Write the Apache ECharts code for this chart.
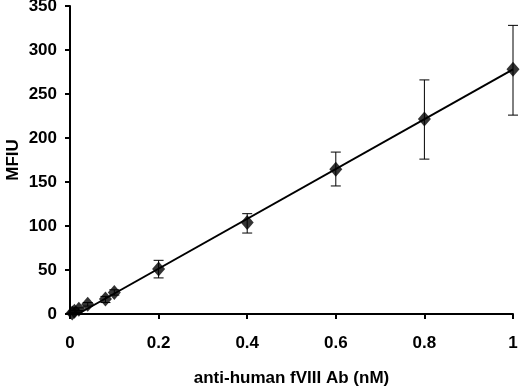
<!DOCTYPE html>
<html>
<head>
<meta charset="utf-8">
<script src="https://cdn.jsdelivr.net/npm/echarts@6/dist/echarts.min.js"></script>
<style>
  html, body { margin: 0; padding: 0; background: #fff; }
  #chart { width: 520px; height: 386px; }
</style>
</head>
<body>
<div id="chart"></div>
<script>
// concentrations (nM) and mean fluorescence
const conc = [0.005, 0.01, 0.02, 0.04, 0.08, 0.1, 0.2, 0.4, 0.6, 0.8, 1]
const mfiu = [1, 3, 5.5, 11, 17, 24.5, 51, 104, 164.5, 221.5, 278]
const errLow = [0.5, 1, 1.5, 2, 4, 3, 10, 12, 19, 45.5, 52]
const errHigh = [0.5, 1, 1.5, 2, 3, 3, 10, 10, 19.5, 44.5, 50]
// linear trendline endpoints
const trendX = [0.018, 1]
const trendY = [0, 278]

const yTicks = [0, 50, 100, 150, 200, 250, 300, 350]
const xTicks = [0, 0.2, 0.4, 0.6, 0.8, 1]

const font = 'Liberation Sans, Arial, sans-serif'

const chart = echarts.init(document.getElementById('chart'))

const pointData = conc.map((x, i) => [x, mfiu[i]])
const errData = conc.map((x, i) => [x, mfiu[i] - errLow[i], mfiu[i] + errHigh[i]])

const option = {
  animation: false,
  grid: { left: 70, right: 7, top: 6, bottom: 72, containLabel: false, outerBoundsMode: 'none' },
  xAxis: {
    type: 'value',
    min: xTicks[0],
    max: xTicks[xTicks.length - 1],
    interval: 0.2,
    name: 'anti-human fVIII Ab (nM)',
    nameLocation: 'middle',
    nameGap: 56,
    nameMoveOverlap: false,
    nameTextStyle: { fontFamily: font, fontWeight: 'bold', fontSize: 17, color: '#000' },
    axisLine: { lineStyle: { color: '#000', width: 2 } },
    axisTick: { inside: false, length: 5, lineStyle: { color: '#000', width: 2 } },
    axisLabel: { fontFamily: font, fontWeight: 'bold', fontSize: 17, color: '#000', margin: 21 },
    splitLine: { show: false }
  },
  yAxis: {
    type: 'value',
    min: yTicks[0],
    max: yTicks[yTicks.length - 1],
    interval: 50,
    name: 'MFIU',
    nameLocation: 'middle',
    nameGap: 48,
    nameRotate: 90,
    nameMoveOverlap: false,
    nameTextStyle: { fontFamily: font, fontWeight: 'bold', fontSize: 17, color: '#000' },
    axisLine: { show: true, lineStyle: { color: '#000', width: 2 } },
    axisTick: { show: true, inside: false, length: 5, lineStyle: { color: '#000', width: 2 } },
    axisLabel: { fontFamily: font, fontWeight: 'bold', fontSize: 17, color: '#000', margin: 13 },
    splitLine: { show: false }
  },
  series: [
    {
      type: 'line',
      data: trendX.map((x, i) => [x, trendY[i]]),
      symbol: 'none',
      lineStyle: { color: '#000', width: 2 },
      z: 2
    },
    {
      type: 'custom',
      data: errData,
      renderItem: (params, api) => {
        const x = api.value(0)
        const lo = api.coord([x, api.value(1)])
        const hi = api.coord([x, api.value(2)])
        const cap = 5
        const style = { stroke: '#000', lineWidth: 1 }
        return {
          type: 'group',
          children: [
            { type: 'line', shape: { x1: lo[0], y1: lo[1], x2: hi[0], y2: hi[1] }, style },
            { type: 'line', shape: { x1: lo[0] - cap, y1: lo[1], x2: lo[0] + cap, y2: lo[1] }, style },
            { type: 'line', shape: { x1: hi[0] - cap, y1: hi[1], x2: hi[0] + cap, y2: hi[1] }, style }
          ]
        }
      },
      z: 3
    },
    {
      type: 'scatter',
      data: pointData,
      symbol: 'diamond',
      symbolSize: [13, 15],
      itemStyle: { color: '#000' },
      z: 4
    }
  ]
}

chart.setOption(option)
</script>
</body>
</html>
